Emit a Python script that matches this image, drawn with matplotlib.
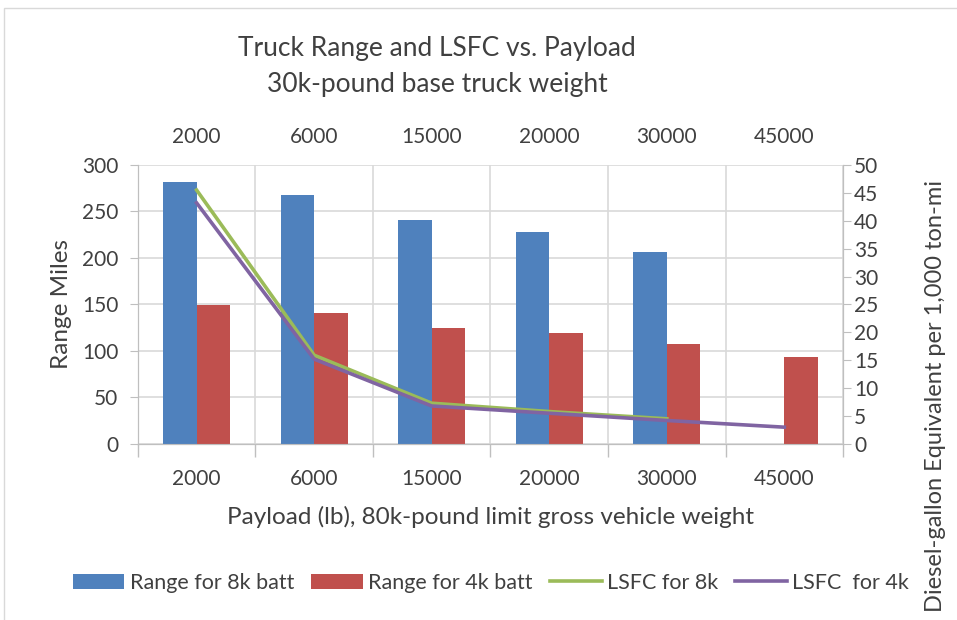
import numpy as np
import matplotlib
matplotlib.use('Agg')
import matplotlib.pyplot as plt
from matplotlib.patches import Rectangle

plt.rcParams['font.family'] = ['Lato', 'DejaVu Sans']

payloads = ['2000', '6000', '15000', '20000', '30000', '45000']
range_8k = [282, 268, 241, 228, 206, np.nan]
range_4k = [149, 141, 125, 119, 107, 93]
lsfc_8k = [45.5, 15.9, 7.3, 5.8, 4.5, np.nan]
lsfc_4k = [43.2, 15.2, 6.8, 5.5, 4.2, 3.0]

blue = '#4F81BD'
red = '#C0504D'
green = '#9BBB59'
purple = '#8064A2'
grid_c = '#D9D9D9'
axis_c = '#BFBFBF'
text_c = '#404040'

fig = plt.figure(figsize=(9.57, 6.2), dpi=100)
ax = fig.add_axes([0.144, 0.284, 0.737, 0.45])
ax2 = ax.twinx()

x = np.arange(len(payloads))
w = 1 / 3.5
ax.bar(x - w / 2, range_8k, w, color=blue, label='Range for 8k batt', zorder=3)
ax.bar(x + w / 2, range_4k, w, color=red, label='Range for 4k batt', zorder=3)
ax2.plot(x, lsfc_8k, color=green, lw=2.6, label='LSFC for 8k', zorder=4)
ax2.plot(x, lsfc_4k, color=purple, lw=2.6, label='LSFC  for 4k', zorder=4)

ax.set_xlim(-0.5, 5.5)
ax.set_ylim(0, 300)
ax2.set_ylim(0, 50)
ax.set_yticks(range(0, 301, 50))
ax2.set_yticks(range(0, 51, 5))

# category boundaries as major ticks, labels at centers as minor ticks
ax.set_xticks(np.arange(-0.5, 6, 1))
ax.set_xticklabels([])
ax.set_xticks(x, minor=True)
ax.set_xticklabels(payloads, minor=True)
ax.tick_params(axis='x', which='major', length=9, color=axis_c, width=1)
ax.tick_params(axis='x', which='minor', length=0, pad=18, labelsize=15, labelcolor=text_c)
ax.tick_params(axis='y', length=6, color=axis_c, labelsize=15, labelcolor=text_c, pad=8)
ax2.tick_params(axis='y', length=6, color=axis_c, labelsize=15, labelcolor=text_c, pad=2)

ax.grid(True, which='major', color=grid_c, lw=1.2, zorder=0)
ax.set_axisbelow(True)
for a in (ax, ax2):
    for s in a.spines.values():
        s.set_color(axis_c)
    a.spines['top'].set_visible(False)

top = ax.secondary_xaxis('top')
top.set_xticks(x)
top.set_xticklabels(payloads)
top.tick_params(length=0, pad=13, labelsize=15, labelcolor=text_c)
top.spines['top'].set_visible(False)

ax.set_xlabel('Payload (lb), 80k-pound limit gross vehicle weight', fontsize=17.5, color=text_c, labelpad=12)
ax.set_ylabel('Range Miles', fontsize=17.5, color=text_c, labelpad=7)
fig.text(0.978, 0.71, 'Diesel-gallon Equivalent per 1,000 ton-mi', rotation=90,
         ha='center', va='top', fontsize=17, color=text_c)

fig.text(0.457, 0.922, 'Truck Range and LSFC vs. Payload', ha='center', va='center', fontsize=19, color=text_c)
fig.text(0.457, 0.863, '30k-pound base truck weight', ha='center', va='center', fontsize=19, color=text_c)

h1, l1 = ax.get_legend_handles_labels()
h2, l2 = ax2.get_legend_handles_labels()
fig.legend(h1 + h2, l1 + l2, loc='center', bbox_to_anchor=(0.513, 0.06), ncol=4,
           frameon=False, fontsize=15.5, labelcolor=text_c, handlelength=2.4,
           handleheight=0.7, handletextpad=0.25, columnspacing=0.8)

fig.add_artist(Rectangle((0.004, -0.1), 1.2, 1.087, transform=fig.transFigure,
                         fill=False, edgecolor='#D9D9D9', lw=1))

fig.savefig('out.png', dpi=100)
